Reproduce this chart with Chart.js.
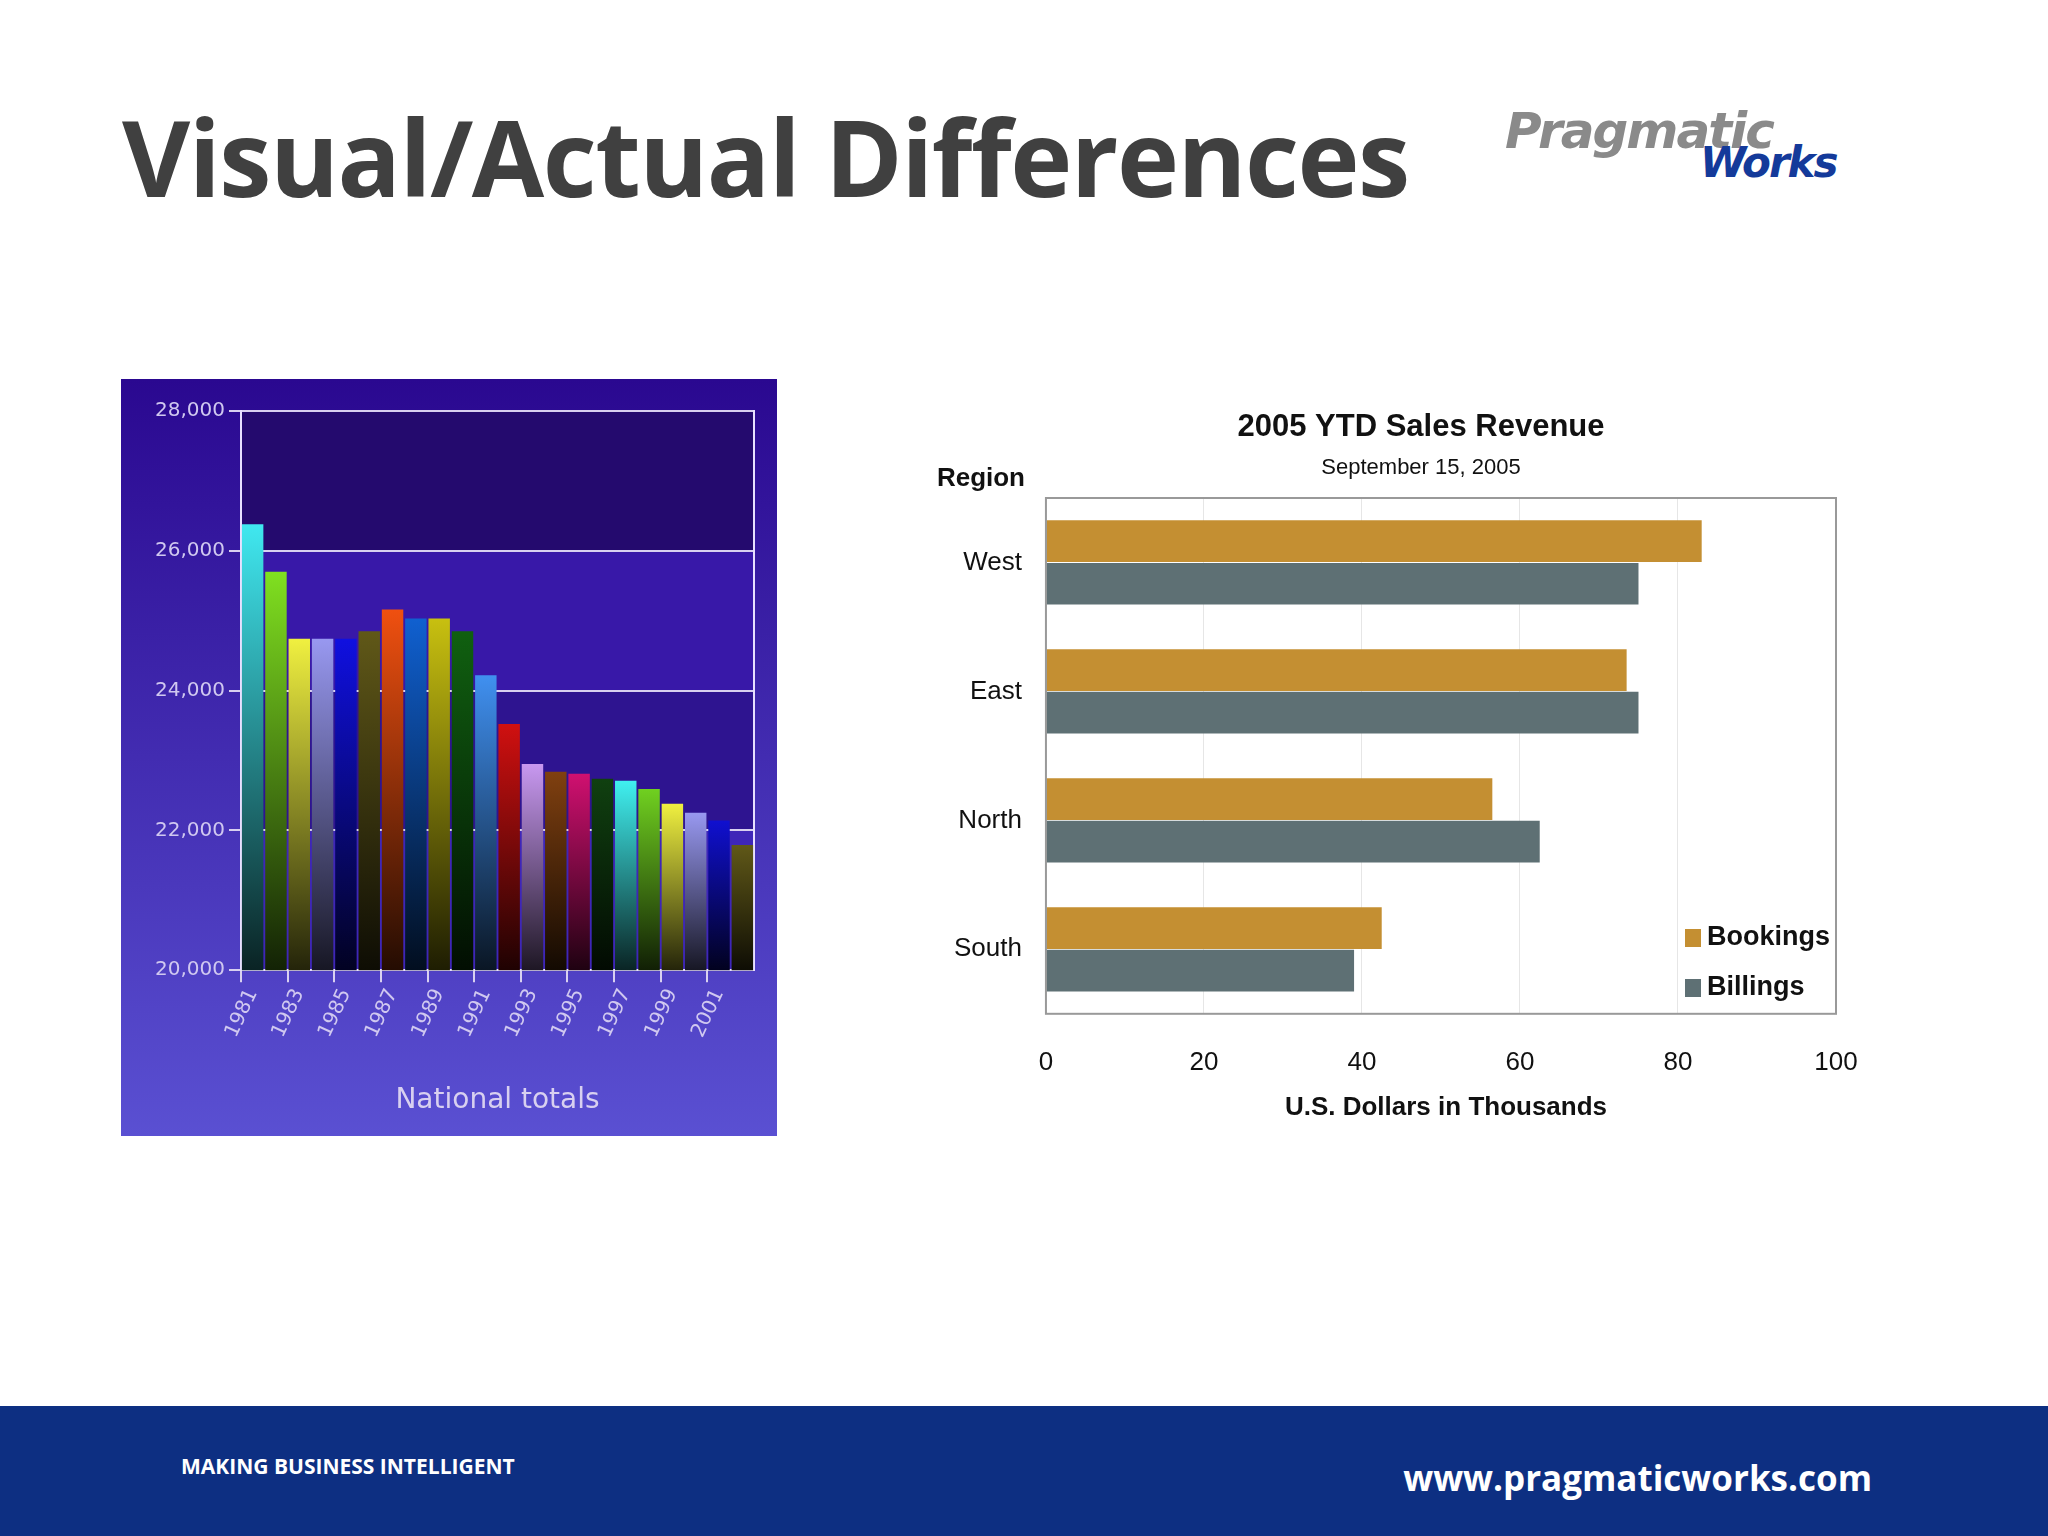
<!DOCTYPE html>
<html><head><meta charset="utf-8">
<script src="https://cdn.jsdelivr.net/npm/chart.js@4"></script>
<style>
body{margin:0;width:2048px;height:1536px;background:#fff;position:relative;overflow:hidden;font-family:"Open Sans",sans-serif}
#title{position:absolute;left:122px;top:104px;font-size:105px;font-weight:700;color:#404040;letter-spacing:-1.5px;line-height:1}
#logo1{position:absolute;left:1505px;top:102px;font:italic 900 50px "DejaVu Sans",sans-serif;color:#8a8a8a;letter-spacing:-2px}
#logo2{position:absolute;left:1700px;top:138px;font:italic 900 42px "DejaVu Sans",sans-serif;color:#143a9a;letter-spacing:-2px}
#footer{position:absolute;left:0;top:1406px;width:2048px;height:130px;background:#0d2f82}
#f1{position:absolute;left:181px;top:1452px;color:#fff;font-weight:700;font-size:21px}
#f2{position:absolute;right:176px;top:1454px;color:#fff;font-weight:700;font-size:35px}
#c1{position:absolute;left:121px;top:379px}
#c2{position:absolute;left:921px;top:390px}
</style></head><body>
<div id="title">Visual/Actual Differences</div>
<div id="logo1">Pragmatic</div>
<div id="logo2">Works</div>
<canvas id="c1" width="656" height="757"></canvas>
<canvas id="c2" width="1000" height="780"></canvas>
<div id="footer"></div>
<div id="f1">MAKING BUSINESS INTELLIGENT</div>
<div id="f2">www.pragmaticworks.com</div>
<script>
const years=['1981','1982','1983','1984','1985','1986','1987','1988','1989','1990','1991','1992','1993','1994','1995','1996','1997','1998','1999','2000','2001','2002'];
const totals=[26380,25700,24740,24740,24740,24850,25160,25030,25030,24850,24220,23520,22950,22840,22810,22740,22710,22590,22380,22250,22140,21790];
const barColors=['#40e8f0','#80e020','#f0f040','#9898f0','#1010e0','#605818','#f05010','#1060d0','#c8c010','#106010','#4090f0','#d01010','#c898f0','#804010','#d01070','#104010','#40f0f0','#70d020','#f0f040','#9898f0','#1010d0','#605818'];
const regions=['West','East','North','South'];
const bookings=[83,73.5,56.5,42.5];
const billings=[75,75,62.5,39];
const chartTitle='2005 YTD Sales Revenue';
const chartSubtitle='September 15, 2005';
const xTitle='U.S. Dollars in Thousands';

function shade(hex,f){const n=parseInt(hex.slice(1),16);const r=(n>>16)&255,g=(n>>8)&255,b=n&255;return `rgb(${Math.round(r*f)},${Math.round(g*f)},${Math.round(b*f)})`;}

const bgPlugin={id:'bg',beforeDraw(c){const {ctx,chartArea:a,scales:{y}}=c;
 const g=ctx.createLinearGradient(0,0,0,c.height);g.addColorStop(0,'#2a0890');g.addColorStop(1,'#5a50d2');
 ctx.save();ctx.fillStyle=g;ctx.fillRect(0,0,c.width,c.height);
 const bands=[[28000,26000,'#240a6e'],[26000,24000,'#3818a8'],[24000,22000,'#2e1490'],[22000,20000,'#3e26b8']];
 bands.forEach(([t,b,col])=>{ctx.fillStyle=col;const yt=y.getPixelForValue(t),yb=y.getPixelForValue(b);ctx.fillRect(a.left,yt,a.right-a.left,yb-yt);});
 ctx.restore();}};

new Chart(document.getElementById('c1'),{type:'bar',
 data:{labels:years,datasets:[{data:totals,barPercentage:0.92,categoryPercentage:1,
  backgroundColor:(ctx)=>{const c=ctx.chart;if(!c.chartArea)return barColors[ctx.dataIndex];const y=c.scales.y;const v=ctx.raw;
   const g=c.ctx.createLinearGradient(0,y.getPixelForValue(v),0,y.getPixelForValue(20000));
   const col=barColors[ctx.dataIndex];g.addColorStop(0,shade(col,1));g.addColorStop(1,shade(col,0.15));return g;}}]},
 options:{responsive:false,animation:false,devicePixelRatio:1,
  layout:{padding:{left:30,right:15,top:32,bottom:14}},
  plugins:{legend:{display:false},tooltip:{enabled:false}},
  scales:{
   x:{grid:{display:true,drawOnChartArea:false,tickLength:12,tickColor:(c)=>c.index%2===0?'#d8d0f0':'rgba(0,0,0,0)',lineWidth:2},border:{color:'#e8e0ff',width:2},
    title:{display:true,text:'National totals',color:'#d8d0f0',font:{family:'DejaVu Sans',size:28},padding:{top:40}},
    ticks:{autoSkip:false,maxRotation:65,minRotation:65,color:'#d0c8f0',font:{family:'DejaVu Sans',size:20},callback:(v,i)=>i%2===0?years[i]:''}},
   y:{min:20000,max:28000,position:'left',grid:{color:'#d8d0f0',lineWidth:2,tickLength:12},border:{color:'#e8e0ff',width:2},
    ticks:{stepSize:2000,color:'#d0c8f0',font:{family:'DejaVu Sans',size:20},padding:4,callback:v=>v.toLocaleString('en-US')}},
   yr:{position:'right',min:20000,max:28000,grid:{display:false},border:{color:'#e8e0ff',width:2},ticks:{display:false}}
  }},plugins:[bgPlugin]});

const extras={id:'extras',afterDraw(c){const {ctx,chartArea:a}=c;ctx.save();
 ctx.strokeStyle='#999';ctx.lineWidth=2;ctx.strokeRect(a.left,a.top,a.right-a.left,a.bottom-a.top);
 ctx.fillStyle='#111';ctx.textAlign='center';ctx.textBaseline='middle';
 ctx.font='bold 31px "Liberation Sans",sans-serif';ctx.fillText(chartTitle,500,37);
 ctx.font='22px "Liberation Sans",sans-serif';ctx.fillText(chartSubtitle,500,78);
 ctx.font='bold 26px "Liberation Sans",sans-serif';ctx.fillText(xTitle,(a.left+a.right)/2+5,a.bottom+94);
 ctx.textAlign='right';ctx.fillText('Region',104,89);
 ctx.textAlign='left';ctx.font='bold 27px "Liberation Sans",sans-serif';
 c.data.datasets.forEach((d,i)=>{const yy=548+i*50;ctx.fillStyle=d.backgroundColor;ctx.fillRect(764,yy-9,16,18);ctx.fillStyle='#111';ctx.fillText(d.label,786,yy);});
 ctx.restore();}};

new Chart(document.getElementById('c2'),{type:'bar',
 data:{labels:regions,datasets:[{label:'Bookings',data:bookings,backgroundColor:'#c48f32'},{label:'Billings',data:billings,backgroundColor:'#5e7074'}]},
 options:{indexAxis:'y',responsive:false,animation:false,devicePixelRatio:1,
  datasets:{bar:{categoryPercentage:0.66,barPercentage:0.98}},
  layout:{padding:{left:9,right:85,top:108,bottom:59}},
  plugins:{legend:{display:false},tooltip:{enabled:false}},
  scales:{
   x:{min:0,max:100,ticks:{stepSize:20,color:'#111',font:{family:'"Liberation Sans"',size:26},padding:33},grid:{color:'#e6e6e6',drawTicks:false},border:{display:false}},
   y:{ticks:{color:'#111',font:{family:'"Liberation Sans"',size:26},padding:24},grid:{display:false,drawTicks:false},border:{display:false}}
  }},plugins:[extras]});
</script></body></html>
